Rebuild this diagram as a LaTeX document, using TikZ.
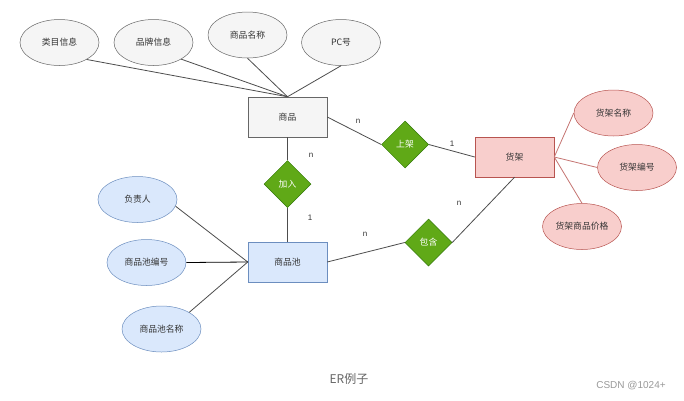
\documentclass[tikz,border=0pt]{standalone}
\usepackage{fontspec}
\setmainfont{Liberation Sans}
\newfontfamily\cjk{Noto Sans CJK SC}
\usetikzlibrary{shapes.geometric}
\definecolor{gfill}{HTML}{F5F5F5}
\definecolor{gdraw}{HTML}{666666}
\definecolor{pfill}{HTML}{F8CECC}
\definecolor{pdraw}{HTML}{B85450}
\definecolor{bfill}{HTML}{DAE8FC}
\definecolor{bdraw}{HTML}{6C8EBF}
\definecolor{rfill}{HTML}{60A917}
\definecolor{rdraw}{HTML}{2D7600}
\definecolor{lcol}{HTML}{4D4D4D}
\tikzset{
  txt/.style={font=\cjk\fontsize{8.8}{10}\selectfont},
  attr/.style={ellipse, txt, inner sep=0pt, minimum width=79pt, minimum height=46pt, text=black!80},
  gattr/.style={attr, fill=gfill, draw=gdraw, line width=0.5pt},
  pattr/.style={attr, fill=pfill, draw=pdraw, line width=0.5pt},
  battr/.style={attr, fill=bfill, draw=bdraw, line width=0.5pt},
  ent/.style={rectangle, txt, inner sep=0pt, minimum width=79pt, minimum height=40pt, text=black!80, line width=0.5pt},
  gent/.style={ent, fill=gfill, draw=gdraw},
  pent/.style={ent, fill=pfill, draw=pdraw},
  bent/.style={ent, fill=bfill, draw=bdraw},
  rel/.style={diamond, aspect=1, txt, inner sep=0pt, minimum width=47pt, minimum height=47pt, fill=rfill, draw=rdraw, line width=0.5pt, text=white},
  conn/.style={draw=lcol, line width=0.8pt},
  pconn/.style={draw=pdraw!80, line width=0.8pt},
  card/.style={font=\fontsize{8}{9}\selectfont, text=black!80, inner sep=0pt}
}
\begin{document}
\begin{tikzpicture}[x=1pt,y=-1pt]
\useasboundingbox (0,0) rectangle (684,400);
\fill[white] (0,0) rectangle (684,400);
% attributes of 商品
\node[gattr] (lm) at (59.5,42.5) {类目信息};
\node[gattr] (pp) at (153.5,42.5) {品牌信息};
\node[gattr] (mc) at (247.5,35) {商品名称};
\node[gattr] (pc) at (341,42.5) {PC号};
\node[gent] (sp) at (287.5,117) {商品};
% 货架
\node[rel] (sj) at (405,144.5) {上架};
\node[pent] (hj) at (514.5,157) {货架};
\node[pattr] (hjmc) at (613.5,113) {货架名称};
\node[pattr] (hjbh) at (637,167.5) {货架编号};
\node[pattr] (hjjg) at (582,226.5) {货架商品价格};
% 商品池
\node[rel] (jr) at (287.5,184) {加入};
\node[bent] (spc) at (287.5,262) {商品池};
\node[battr] (fzr) at (137.5,199.5) {负责人};
\node[battr] (bh) at (146.5,262.5) {商品池编号};
\node[battr] (mcc) at (161.5,329) {商品池名称};
\node[rel] (bhan) at (428.5,242.5) {包含};
% connectors
\draw[conn] (lm.-32) -- (sp.north);
\draw[conn] (pp.-31) -- (sp.north);
\draw[conn] (mc.south) -- (sp.north);
\draw[conn] (pc.south) -- (sp.north);
\draw[conn] (sp.east) -- (sj.west);
\draw[conn] (sj.east) -- (hj.west);
\draw[pconn] (hj.east) -- (hjmc.west);
\draw[pconn] (hj.east) -- (hjbh.west);
\draw[pconn] (hj.east) -- (hjjg.north);
\draw[conn] (sp.south) -- (jr.north);
\draw[conn] (jr.south) -- (spc.north);
\draw[conn] (fzr.-10) -- (spc.west);
\draw[draw=black, line width=0.8pt] (bh.east) -- (spc.west);
\draw[conn] (mcc.31) -- (spc.west);
\draw[conn] (spc.east) -- (bhan.west);
\draw[conn] (bhan.east) -- (hj.south);
% cardinalities
\node[card] (c1) at (358,121) {n};
\node[card] (c2) at (452,143.5) {1};
\node[card] (c3) at (311,155.5) {n};
\node[card] (c4) at (310,218) {1};
\node[card] (c5) at (365,234.5) {n};
\node[card] (c6) at (459,203.5) {n};
% caption
\node[font=\cjk\fontsize{12}{14}\selectfont, text=black!60, inner sep=0pt] (cap) at (349,379) {ER例子};
\node[font=\fontsize{10}{12}\selectfont, text=black!40, inner sep=0pt] (wm) at (631,386) {CSDN @1024+};
\end{tikzpicture}
\end{document}
